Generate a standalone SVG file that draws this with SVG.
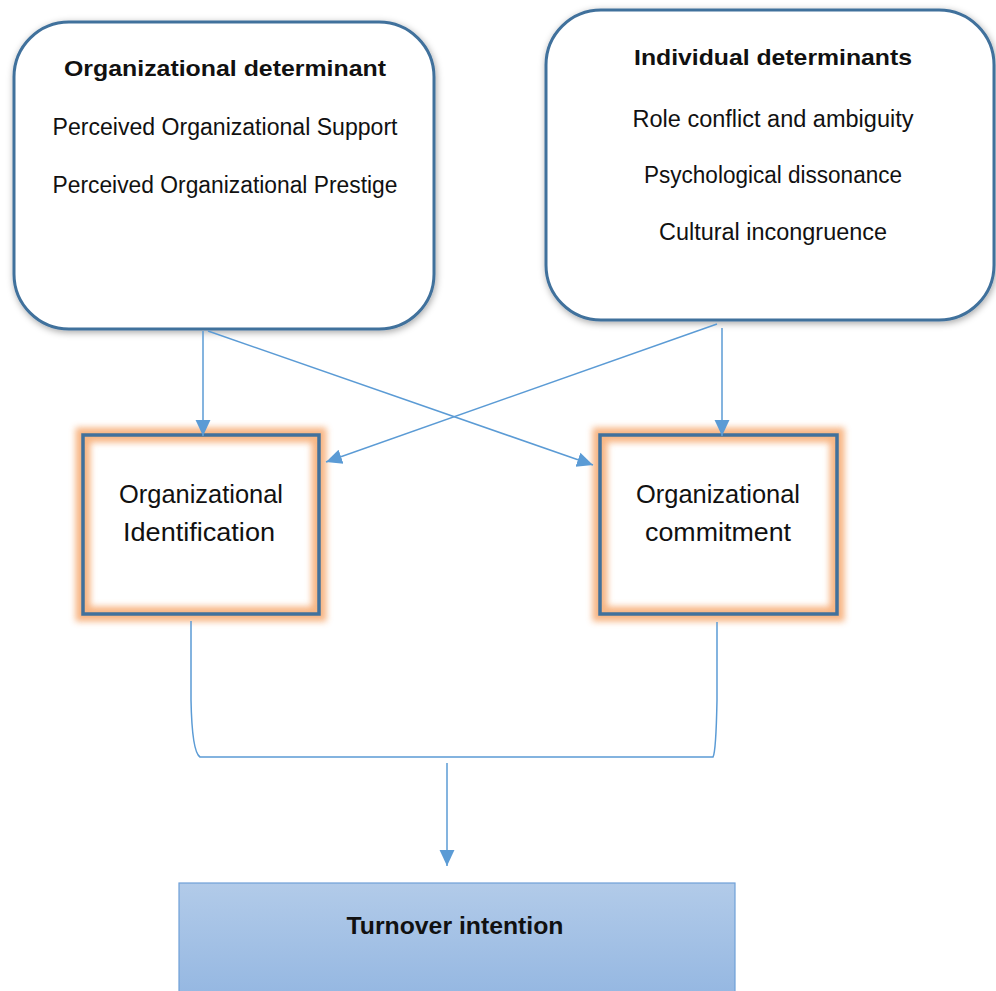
<svg xmlns="http://www.w3.org/2000/svg" width="996" height="991" viewBox="0 0 996 991">
  <defs>
    <style>
      .txt { font-family: "Liberation Sans", Arial, sans-serif; fill: #111; text-anchor: middle; }
      .b { font-weight: bold; }
      .det { fill: #ffffff; stroke: #41719C; stroke-width: 3; }
      .sq { fill: none; stroke: #41719C; stroke-width: 3.5; }
      .glow { fill: none; stroke: #F6A96E; stroke-width: 15; opacity: 0.85; }
      .conn { fill: none; stroke: #5B9BD5; stroke-width: 1.5; }
    </style>
    <filter id="shadow" x="-10%" y="-10%" width="120%" height="125%">
      <feDropShadow dx="1" dy="2" stdDeviation="3.5" flood-color="#000" flood-opacity="0.35"/>
    </filter>
    <filter id="soft" x="-20%" y="-20%" width="140%" height="140%">
      <feGaussianBlur stdDeviation="3.2"/>
    </filter>
    <marker id="arrow" markerUnits="userSpaceOnUse" markerWidth="17" markerHeight="17" viewBox="0 0 16 16" refX="15" refY="8" orient="auto">
      <path d="M0,1 L15,8 L0,15 Z" fill="#5B9BD5"/>
    </marker>
    <linearGradient id="tiFill" x1="0" y1="0" x2="0" y2="1">
      <stop offset="0" stop-color="#B2CBE9"/>
      <stop offset="1" stop-color="#93B6E1"/>
    </linearGradient>
  </defs>

  <rect width="996" height="991" fill="#ffffff"/>

  <!-- determinant boxes -->
  <g id="org-determinant">
    <rect class="det" x="14" y="22" width="420" height="307" rx="55" ry="55" filter="url(#shadow)"/>
    <text class="txt b" x="225" y="76" font-size="22" textLength="322" lengthAdjust="spacingAndGlyphs">Organizational determinant</text>
    <text class="txt" x="225" y="135" font-size="23" textLength="345" lengthAdjust="spacingAndGlyphs">Perceived Organizational Support</text>
    <text class="txt" x="225" y="193" font-size="23" textLength="345" lengthAdjust="spacingAndGlyphs">Perceived Organizational Prestige</text>
  </g>

  <g id="ind-determinants">
    <rect class="det" x="546" y="10" width="448" height="310" rx="55" ry="55" filter="url(#shadow)"/>
    <text class="txt b" x="773" y="65" font-size="22" textLength="278" lengthAdjust="spacingAndGlyphs">Individual determinants</text>
    <text class="txt" x="773" y="127" font-size="23" textLength="281" lengthAdjust="spacingAndGlyphs">Role conflict and ambiguity</text>
    <text class="txt" x="773" y="183" font-size="23" textLength="258" lengthAdjust="spacingAndGlyphs">Psychological dissonance</text>
    <text class="txt" x="773" y="240" font-size="23" textLength="228" lengthAdjust="spacingAndGlyphs">Cultural incongruence</text>
  </g>

  <!-- mediator boxes -->
  <g id="org-identification">
    <rect x="83" y="435" width="236" height="179" fill="#ffffff"/>
    <rect class="glow" x="83" y="435" width="236" height="179" filter="url(#soft)"/>
    <rect class="sq" x="83" y="435" width="236" height="179"/>
    <text class="txt" x="201" y="503" font-size="25" textLength="164" lengthAdjust="spacingAndGlyphs">Organizational</text>
    <text class="txt" x="199" y="541" font-size="25" textLength="152" lengthAdjust="spacingAndGlyphs">Identification</text>
  </g>

  <g id="org-commitment">
    <rect x="600" y="435" width="237" height="179" fill="#ffffff"/>
    <rect class="glow" x="600" y="435" width="237" height="179" filter="url(#soft)"/>
    <rect class="sq" x="600" y="435" width="237" height="179"/>
    <text class="txt" x="718" y="503" font-size="25" textLength="164" lengthAdjust="spacingAndGlyphs">Organizational</text>
    <text class="txt" x="718" y="541" font-size="25" textLength="146" lengthAdjust="spacingAndGlyphs">commitment</text>
  </g>

  <!-- outcome box -->
  <g id="turnover-intention">
    <rect x="179" y="883" width="556" height="120" fill="url(#tiFill)" stroke="#6FA0D8" stroke-width="1.2"/>
    <text class="txt b" x="455" y="934" font-size="23" textLength="217" lengthAdjust="spacingAndGlyphs">Turnover intention</text>
  </g>

  <!-- connectors -->
  <g id="connectors">
    <line class="conn" x1="203" y1="331" x2="203" y2="436" marker-end="url(#arrow)"/>
    <line class="conn" x1="208" y1="331" x2="593" y2="465" marker-end="url(#arrow)"/>
    <line class="conn" x1="717" y1="324" x2="326" y2="462" marker-end="url(#arrow)"/>
    <line class="conn" x1="722" y1="328" x2="722" y2="436" marker-end="url(#arrow)"/>
    <path class="conn" d="M191,621 L191,700 Q192,752 200,757 L713,757 Q716,752 717,700 L717,622"/>
    <line class="conn" x1="447" y1="763" x2="447" y2="866" marker-end="url(#arrow)"/>
  </g>
</svg>
